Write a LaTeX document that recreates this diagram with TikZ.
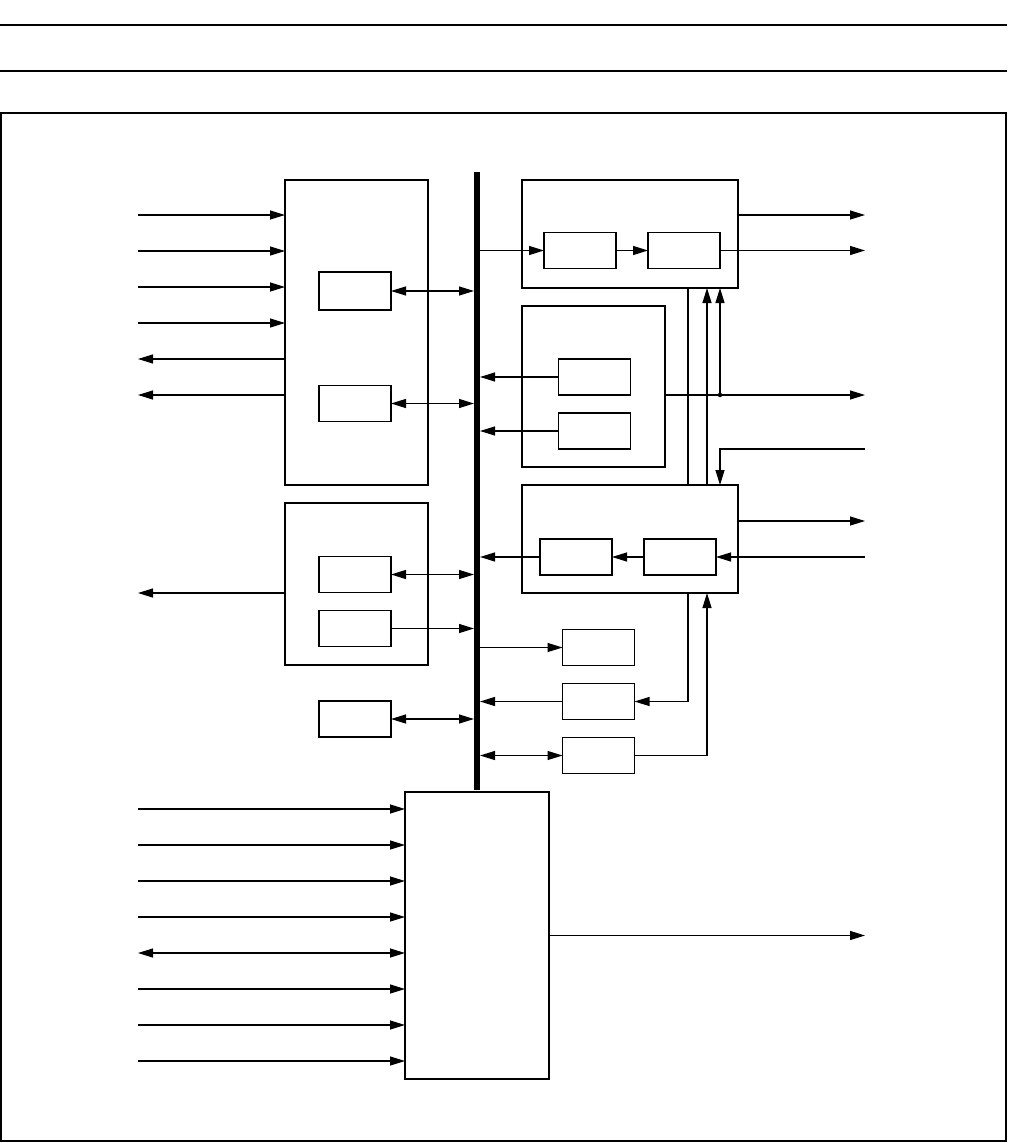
\documentclass[tikz,border=0pt]{standalone}
\usetikzlibrary{arrows.meta, positioning}
\tikzset{
  blk/.style  = {rectangle, draw, line width=2pt,
                 inner sep=0pt, outer sep=0pt},
  unit/.style = {rectangle, draw, line width=1.2pt,
                 minimum width=72pt, minimum height=36pt,
                 inner sep=0pt, outer sep=0pt},
  wire/.style = {line width=1.2pt},
  arr/.style  = {-{Triangle[length=15pt,width=9pt]}, wire},
  darr/.style = {{Triangle[length=15pt,width=9pt]}-{Triangle[length=15pt,width=9pt]}, wire},
  rule/.style = {line width=2pt},
}
\begin{document}
\begin{tikzpicture}[x=1pt, y=-1pt]
\useasboundingbox (0,0) rectangle (1009,1143);

% ── Page rules and frame ─────────────────────────────────
\draw[rule] (0,25) -- (1007,25);
\draw[rule] (0,71) -- (1007,71);
\draw[line width=1.6pt] (1,113) rectangle (1006,1141);

\coordinate (inx)  at (138,0);
\coordinate (outx) at (865,0);

% ── Bus ──────────────────────────────────────────────────
\node[fill=black, minimum width=6pt, minimum height=618pt,
      inner sep=0pt, outer sep=0pt] (bus) at (477,481) {};

% ── Left blocks ──────────────────────────────────────────
\node[blk, minimum width=143pt, minimum height=305pt] (A) at (356.5,332.5) {};
\node[unit, minimum height=38pt] (a1) at (355,291) {};
\node[unit] (a2) at (355,403.5) {};

\node[blk, minimum width=143pt, minimum height=162pt] (B) at (356.5,584) {};
\node[unit] (b1) at (355,574.5) {};
\node[unit, below=18pt of b1] (b2) {};

\node[unit] (c1) at (355,719) {};

% ── Bottom block ─────────────────────────────────────────
\node[blk, minimum width=144pt, minimum height=287pt] (D) at (477,935.5) {};

% ── Right blocks ─────────────────────────────────────────
\node[blk, minimum width=216pt, minimum height=108pt] (E) at (630,234) {};
\node[unit] (e1) at (580,250.5) {};
\node[unit, right=32pt of e1] (e2) {};

\node[blk, minimum width=143pt, minimum height=161pt] (F) at (593.5,386.5) {};
\node[unit] (f1) at (594.5,377) {};
\node[unit, below=18pt of f1] (f2) {};

\node[blk, minimum width=216pt, minimum height=108pt] (G) at (630,539) {};
\node[unit] (g1) at (576,557) {};
\node[unit, right=32pt of g1] (g2) {};

\node[unit] (h1) at (598.5,647.5) {};
\node[unit, below=18pt of h1] (h2) {};
\node[unit, below=18pt of h2] (h3) {};

% ── Arrows: block A ──────────────────────────────────────
\foreach \y in {215,251,287,323}
  \draw[arr] (inx |- 0,\y) -- (A.west |- 0,\y);
\foreach \y in {359,395}
  \draw[arr] (A.west |- 0,\y) -- (inx |- 0,\y);
\draw[darr] (a1.east) -- (a1.east -| bus.west);
\draw[darr] (a2.east) -- (a2.east -| bus.west);

% ── Arrows: block B and C ────────────────────────────────
\draw[arr] (B.west |- 0,593) -- (inx |- 0,593);
\draw[darr] (b1.east) -- (b1.east -| bus.west);
\draw[arr]  (b2.east) -- (b2.east -| bus.west);
\draw[darr] (c1.east) -- (c1.east -| bus.west);

% ── Arrows: block D ──────────────────────────────────────
\foreach \y in {809,845,881,917,989,1025,1061}
  \draw[arr] (inx |- 0,\y) -- (D.west |- 0,\y);
\draw[darr] (inx |- 0,953) -- (D.west |- 0,953);
\draw[arr] (D.east) -- (outx |- D.east);

% ── Arrows: block E ──────────────────────────────────────
\draw[arr] (e1.west -| bus.east) -- (e1.west);
\draw[arr] (e1) -- (e2);
\draw[arr] (e2.east) -- (e2.east -| outx);
\draw[arr] (E.east |- 0,215) -- (outx |- 0,215);

% ── Arrows: block F ──────────────────────────────────────
\draw[arr] (f1.west) -- (f1.west -| bus.east);
\draw[arr] (f2.west) -- (f2.west -| bus.east);
\coordinate (j1) at (e2.east |- f1.south);
\draw[arr] (F.east |- j1) -- (outx |- j1);
\fill (j1) circle (2.2pt);
\draw[arr] (j1) -- (j1 |- E.south);

% ── Links between E and G ────────────────────────────────
\draw[wire] (E.south -| 688,0) -- (G.north -| 688,0);
\draw[arr]  (G.north -| 707,0) -- (E.south -| 707,0);
\draw[arr]  (outx |- f2.south) -| (j1 |- G.north);

% ── Arrows: block G ──────────────────────────────────────
\draw[arr] (G.east |- 0,521) -- (outx |- 0,521);
\draw[arr] (outx |- g2) -- (g2.east);
\draw[arr] (g2) -- (g1);
\draw[arr] (g1.west) -- (g1.west -| bus.east);

% ── Arrows: small units ──────────────────────────────────
\draw[arr]  (h1.west -| bus.east) -- (h1.west);
\draw[arr]  (h2.west) -- (h2.west -| bus.east);
\draw[arr]  (G.south -| 688,0) |- (h2.east);
\draw[darr] (h3.west -| bus.east) -- (h3.west);
\draw[arr]  (h3.east) -| (G.south -| 707,0);

\end{tikzpicture}
\end{document}
